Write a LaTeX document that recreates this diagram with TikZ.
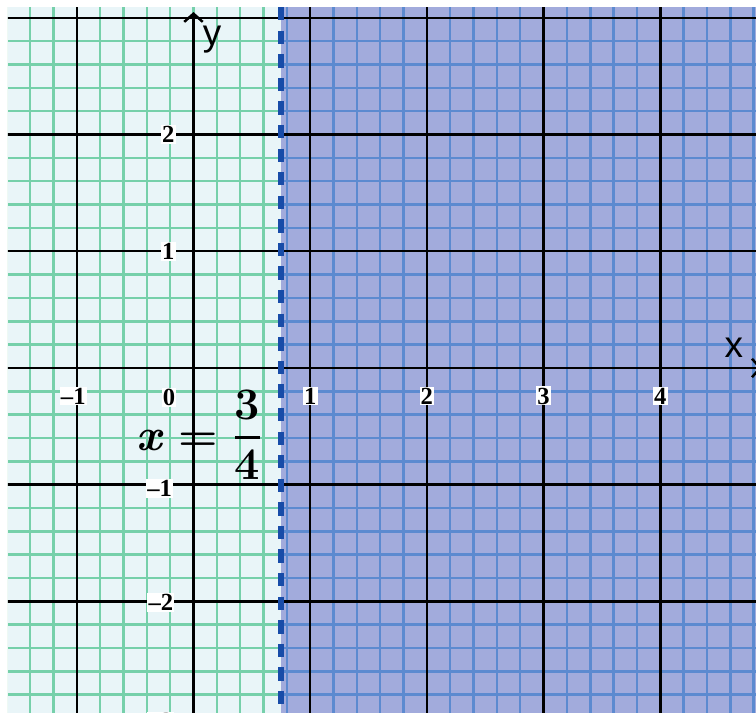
\documentclass[tikz,border=0pt]{standalone}
\usepackage{fix-cm}
\usepackage{fontspec}
\newfontfamily\ticksfont{Liberation Serif}
\newfontfamily\axisfont{Liberation Sans}
\usetikzlibrary{arrows.meta}
\definecolor{paper}{RGB}{233,245,248}
\definecolor{minorgreen}{RGB}{118,208,170}
\definecolor{shadedarea}{RGB}{162,171,220}
\definecolor{minorblue}{RGB}{92,138,208}
\definecolor{boundary}{RGB}{24,76,168}
\newcommand{\boundaryeq}{{\itshape x}\ =\ \setlength{\arrayrulewidth}{1.3pt}%
  \begin{tabular}{@{}c@{}}3\\\hline\rule{0pt}{19.8pt}4\end{tabular}}
\begin{document}
\begin{tikzpicture}
[x=2cm,y=2cm,%
  ticklabel/.style={fill=white,inner sep=0.6pt,font=\ticksfont\bfseries\fontsize{12}{14}\selectfont},%
  axislabel/.style={inner sep=0pt,font=\axisfont\fontsize{18}{20}\selectfont},%
  eqnlabel/.style={inner sep=0pt,anchor=base west,font=\bfseries\fontsize{22}{26.4}\selectfont},%
  axisline/.style={line width=1.2pt,-{Straight Barb[length=4pt,width=9pt]}}]
\useasboundingbox (-1.658,-2.956) rectangle (4.820,3.153);
\clip (-1.59,-2.956) rectangle (4.820,3.093);
% two half planes
\fill[paper] (-1.59,-2.956) rectangle (0.75,3.093);
\fill[shadedarea] (0.75,-2.956) rectangle (4.820,3.093);
% minor grid
\begin{scope}
\clip (-1.59,-2.956) rectangle (0.75,3.093);
\draw[minorgreen,line width=1.2pt,step=0.2] (-1.8,-3.2) grid (0.8,3.2);
\end{scope}
\begin{scope}
\clip (0.75,-2.956) rectangle (4.820,3.093);
\draw[minorblue,line width=1.2pt,step=0.2] (0.6,-3.2) grid (5,3.2);
\end{scope}
% major grid
\foreach \gx in {-1,1,2,3,4}
  \draw[line width=1.2pt] (\gx,-3.2) -- (\gx,3.2);
\foreach \gy in {-2,-1,1,2,3}
  \draw[line width=1.2pt] (-1.8,\gy) -- (5,\gy);
% axes
\draw[axisline] (0,-3.2) -- (0,3.05);
\draw[axisline] (-1.8,0) -- (4.87,0);
% boundary line
\draw[boundary,line width=2.9pt,dash pattern=on 6.5pt off 5pt] (0.75,3.093) -- (0.75,-2.956);
% tick labels
\node[ticklabel] (xm1) at (-1.03,-0.24) {–1};
\node[ticklabel] (x0) at (-0.21,-0.25) {0};
\node[ticklabel] (x1) at (1,-0.24) {1};
\node[ticklabel] (x2) at (2,-0.24) {2};
\node[ticklabel] (x3) at (3,-0.24) {3};
\node[ticklabel] (x4) at (4,-0.24) {4};
\node[ticklabel,anchor=east] (y2) at (-0.15,2) {2};
\node[ticklabel,anchor=east] (y1) at (-0.15,1) {1};
\node[ticklabel,anchor=east] (ym1) at (-0.17,-1.03) {–1};
\node[ticklabel,anchor=east] (ym2) at (-0.16,-2.01) {–2};
\node[ticklabel,anchor=east] (ym3) at (-0.16,-3.03) {–3};
% axis names
\node[axislabel] (ylab) at (0.16,2.81) {y};
\node[axislabel] (xlab) at (4.63,0.17) {x};
% boundary equation
\node[eqnlabel] (eqn) at (-0.493,-0.703) {\boundaryeq};
\end{tikzpicture}
\end{document}
